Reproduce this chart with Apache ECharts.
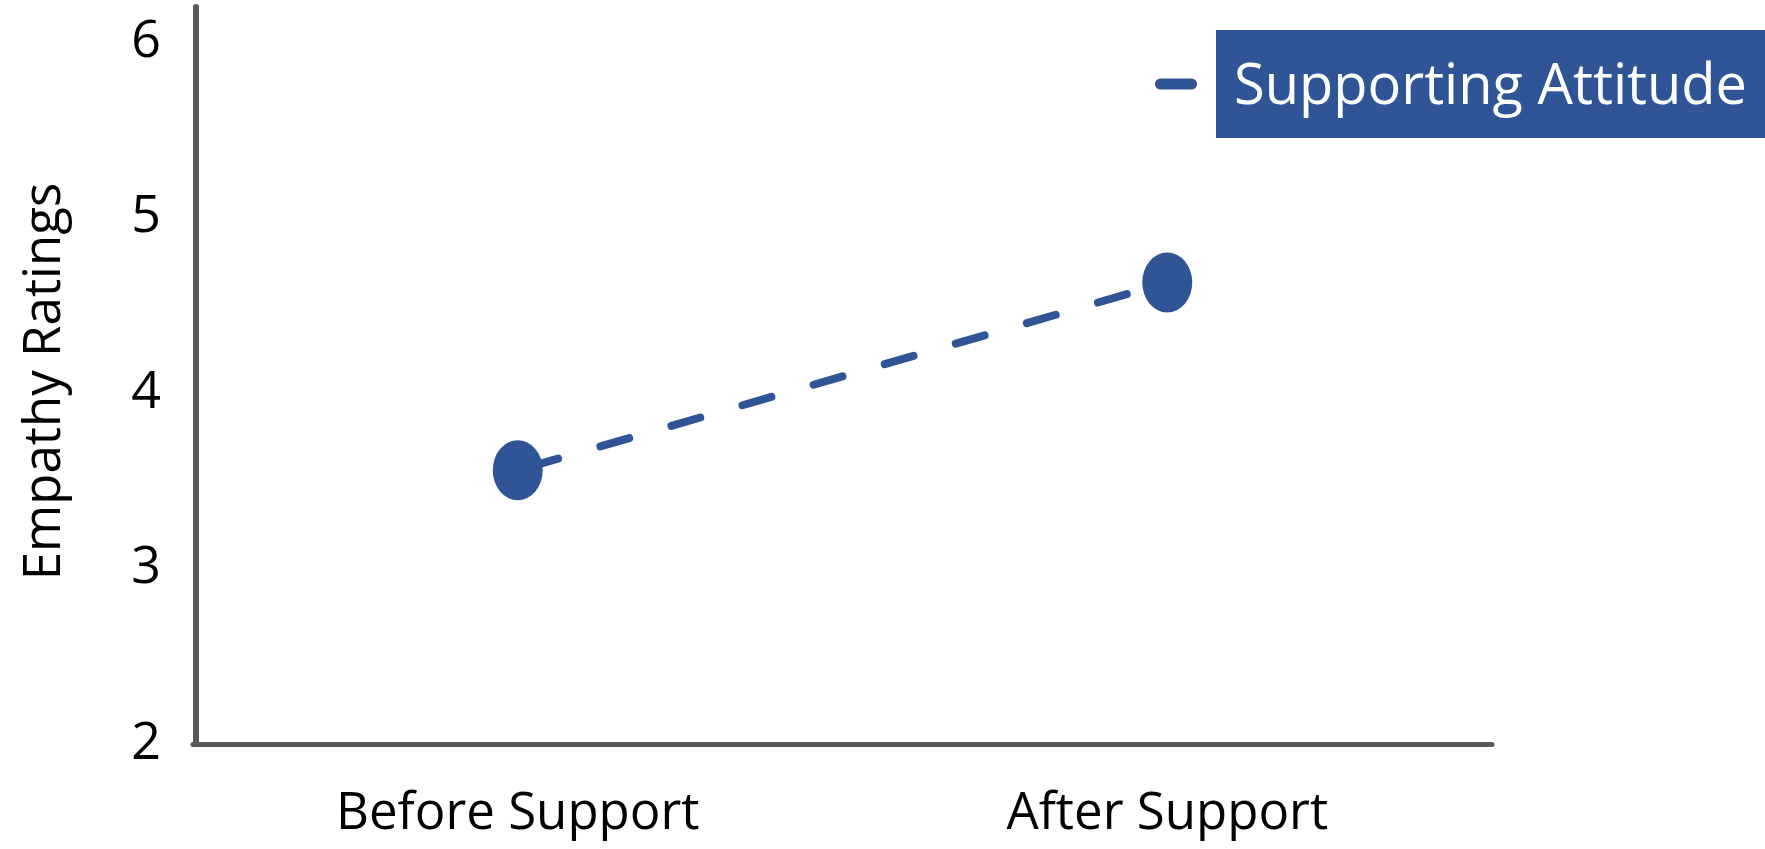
<!DOCTYPE html>
<html>
<head>
<meta charset="utf-8">
<script src="https://cdn.jsdelivr.net/npm/echarts@6/dist/echarts.min.js"></script>
<style>
  html, body { margin: 0; padding: 0; background: #ffffff; }
  #chart { width: 1765px; height: 849px; }
</style>
</head>
<body>
<div id="chart"></div>
<script>
// Category labels along the x axis
const categories = ['Before Support', 'After Support'];
// Mean empathy rating at each phase
const supportingAttitude = [3.56, 4.63];
// Series name shown in the legend
const seriesName = 'Supporting Attitude';
// Y axis range and step
const yMin = 2;
const yMax = 6.2;
const yStep = 1;

const BLUE = '#2F5597';
const AXIS_GREY = '#595959';
const FONT = '"Open Sans", "DejaVu Sans", sans-serif';

// Filled ellipse used for the data markers (taller than wide)
const ellipsePath = 'path://M0,30 A25,30 0 1 1 50,30 A25,30 0 1 1 0,30 Z';
// Capsule used as the legend swatch
const capsulePath = 'path://M5.5,0 L36.5,0 A5.5,5.5 0 0 1 36.5,11 L5.5,11 A5.5,5.5 0 0 1 5.5,0 Z';

const chart = echarts.init(document.getElementById('chart'), null, { renderer: 'canvas' });

chart.setOption({
  backgroundColor: '#ffffff',
  animation: false,
  textStyle: { fontFamily: FONT },
  grid: {
    left: 193,
    right: 273,
    top: 7,
    bottom: 105,
    containLabel: false
  },
  legend: {
    show: true,
    left: 1155,
    top: 30,
    padding: 0,
    selectedMode: false,
    itemWidth: 42,
    itemHeight: 11,
    icon: capsulePath,
    itemStyle: { color: BLUE },
    formatter: function (name) { return '{gap| }{box|' + name + '}'; },
    textStyle: {
      fontFamily: FONT,
      rich: {
        gap: { width: 14, fontSize: 10 },
        box: {
          backgroundColor: BLUE,
          color: '#ffffff',
          fontFamily: FONT,
          fontSize: 56,
          height: 100,
          lineHeight: 100,
          padding: [8, 24, 0, 18]
        }
      }
    },
    data: [seriesName]
  },
  xAxis: {
    type: 'category',
    data: categories,
    boundaryGap: true,
    axisLine: { show: true, lineStyle: { color: AXIS_GREY, width: 5 } },
    axisTick: { show: false },
    splitLine: { show: false },
    axisLabel: {
      color: '#000000',
      fontFamily: FONT,
      fontSize: 51,
      margin: 45
    }
  },
  yAxis: {
    type: 'value',
    min: yMin,
    max: yMax,
    interval: yStep,
    offset: -3,
    name: 'Empathy Ratings',
    nameLocation: 'middle',
    nameGap: 125,
    nameTextStyle: {
      color: '#000000',
      fontFamily: FONT,
      fontSize: 51,
      padding: [0, 12, 0, 0]
    },
    axisLine: { show: true, lineStyle: { color: AXIS_GREY, width: 6 } },
    axisTick: { show: false },
    splitLine: { show: false },
    axisLabel: {
      color: '#000000',
      fontFamily: FONT,
      fontSize: 52,
      margin: 35,
      showMaxLabel: false
    }
  },
  series: [{
    name: seriesName,
    type: 'line',
    data: supportingAttitude,
    symbol: ellipsePath,
    symbolSize: [50, 60],
    symbolKeepAspect: false,
    itemStyle: { color: BLUE },
    lineStyle: {
      color: BLUE,
      width: 8,
      type: [30, 44],
      dashOffset: 62,
      cap: 'round'
    },
    z: 3
  }]
});
</script>
</body>
</html>
